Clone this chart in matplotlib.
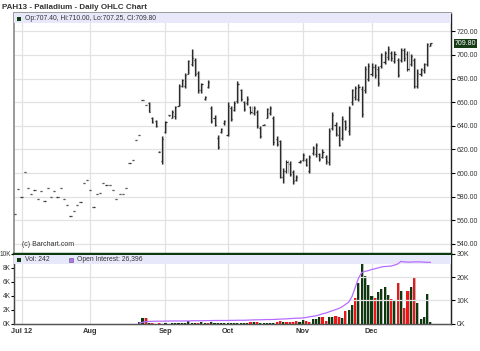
import matplotlib
matplotlib.use('Agg')
import matplotlib.pyplot as plt
from matplotlib.patches import Rectangle
from matplotlib.transforms import blended_transform_factory

plt.rcParams['font.family'] = ['Liberation Sans', 'DejaVu Sans']

# ---------------- data ----------------
highs = [565.5, 586.5, 580, 601, 587.6, 582.5, 586, 578, 584.5, 576.5,
         587.6, 580, 585, 579.5, 587, 578, 573, 563.8, 567.8, 573,
         575.4, 591.5, 594, 586, 571.3, 582, 583, 591.5, 590, 590.3,
         586, 578, 582, 582, 587, 608.5, 610.8, 628.3, 632.6, 662,
         657.5, 660, 647.6, 645.3, 618.5, 631, 644, 649.5, 653, 657,
         675, 680, 685, 696, 705.3, 697.7, 686, 676.4, 665, 679,
         656.6, 649.5, 632.6, 638, 645, 660, 656.6, 661, 677.8, 671.4,
         661, 665, 657, 656.6, 653, 639.6, 641.5, 655, 656.6, 648,
         631, 628.3, 604, 611.3, 610, 602.8, 598.6, 611.3, 617, 612.8,
         615.6, 622.6, 625.5, 617, 620, 615.6, 638, 651.5, 643, 639.6,
         648, 645.3, 656.6, 671.4, 673.6, 675, 673.6, 690.5, 693.4, 693.4,
         692, 690.5, 702, 703.3, 707.5, 703.3, 703.3, 697.7, 706, 706,
         703.3, 700.5, 697.7, 687.7, 689, 693.4, 710.4, 710.0]
lows = [565.5, 586.5, 580, 601, 587.6, 582.5, 586, 578, 584.5, 576.5,
        587.6, 580, 585, 579.5, 587, 578, 573, 563.8, 567.8, 573,
        575.4, 591.5, 594, 586, 571.3, 582, 583, 591.5, 590, 590.3,
        586, 578, 582, 582, 587, 608.5, 610.8, 628.3, 632.6, 662,
        657.5, 651.5, 642.5, 639, 617.5, 607.5, 634, 648.5, 646.7, 646,
        656.6, 673, 672, 683.5, 690.5, 682, 668, 668, 662, 672,
        642.5, 640, 620.4, 634, 641, 631, 643.9, 652.3, 659.5, 661,
        652.3, 658, 650, 649.5, 638, 629.8, 640.5, 646.7, 649.5, 624,
        623.2, 595.8, 591.6, 600, 597.2, 591, 593, 608.5, 610, 605.7,
        600, 615.6, 614, 610, 612.8, 608, 607, 636.8, 631, 622.6,
        628.3, 636.8, 632.6, 658, 662, 661, 647.6, 668, 677.8, 682,
        680.7, 673.6, 689, 692, 696, 694.8, 693.4, 681.6, 694, 694.8,
        686.3, 690.5, 672, 672, 682, 685, 690.5, 707.25]
opens = [565.5, 586.5, 580, 601, 587.6, 582.5, 586, 578, 584.5, 576.5,
         587.6, 580, 585, 579.5, 587, 578, 573, 563.8, 567.8, 573,
         575.4, 591.5, 594, 586, 571.3, 582, 583, 591.5, 590, 590.3,
         586, 578, 582, 582, 587, 608.5, 610.8, 628.3, 632.6, 662,
         657.5, 659, 647, 644, 618, 610, 635, 649, 647, 648,
         657, 674, 674, 684, 692, 696, 685, 670, 663, 673,
         655, 647, 630, 635, 642, 632, 655, 653, 661, 670,
         660, 659, 656, 651, 652, 638, 641, 647, 651, 647,
         629, 627, 597, 602, 608, 601, 594, 609, 611, 611,
         602, 617, 616, 616, 614, 614, 609, 638, 641, 632,
         630, 644, 636, 660, 664, 663, 671, 670, 680, 684,
         690, 688, 691, 694, 698, 702, 695, 696, 696, 704,
         701, 692, 696, 674, 684, 687, 692, 707.40]
closes = [565.5, 586.5, 580, 601, 587.6, 582.5, 586, 578, 584.5, 576.5,
          587.6, 580, 585, 579.5, 587, 578, 573, 563.8, 567.8, 573,
          575.4, 591.5, 594, 586, 571.3, 582, 583, 591.5, 590, 590.3,
          586, 578, 582, 582, 587, 608.5, 610.8, 628.3, 632.6, 662,
          657.5, 652, 643, 640, 618, 629, 643, 649, 652, 656,
          674, 679, 683, 695, 697, 684, 670, 675, 664, 677,
          644, 641, 622, 637, 644, 657, 646, 659, 675, 663,
          654, 663, 652, 655, 640, 631, 641, 654, 655, 626,
          625, 597, 602, 609, 599, 593, 597, 610, 615, 607,
          614, 621, 624, 612, 618, 610, 636, 649, 633, 624,
          646, 639, 655, 670, 672, 673, 650, 688, 691, 690,
          683, 676, 700, 702, 705, 697, 701, 683, 704, 697,
          688, 699, 674, 685, 688, 692, 709, 709.80]

# volume in thousands, and up(1)/down(0) day flag
volume_k = [0] * 38 + [
    0.15, 0.8, 0.8, 0.1, 0.1, 0.0, 0.1, 0.0, 0.05, 0.0,
    0.1, 0.05, 0.05, 0.05, 0.05, 0.3, 0.05, 0.05, 0.05, 0.15,
    0.05, 0.05, 0.15, 0.05, 0.05, 0.05, 0.05, 0.05, 0.05, 0.05,
    0.05, 0.05, 0.05, 0.05, 0.2, 0.15, 0.2, 0.05, 0.1, 0.05,
    0.05, 0.05, 0.2, 0.3, 0.15, 0.2, 0.15, 0.25, 0.35, 0.15,
    0.5, 0.35, 0.2, 0.65, 0.7, 1.0, 1.0, 0.3, 0.95, 0.95,
    1.15, 0.9, 0.8, 1.8, 1.9, 2.6, 3.65, 5.8, 8.96, 6.9,
    5.6, 3.9, 3.65, 4.5, 5.0, 5.3, 4.1, 3.55, 3.2, 5.8,
    4.7, 2.3, 4.7, 5.3, 6.55, 3.0, 0.7, 0.97, 4.2, 0.242]
vol_up = [1] * 38 + [
    1, 1, 0, 1, 0, 1, 0, 1, 1, 1,
    1, 1, 1, 1, 1, 1, 1, 1, 0, 1,
    1, 0, 1, 1, 1, 1, 1, 1, 1, 1,
    1, 1, 1, 1, 0, 1, 0, 1, 1, 1,
    1, 1, 0, 0, 1, 0, 0, 0, 0, 1,
    1, 0, 0, 1, 1, 1, 0, 0, 1, 1,
    0, 0, 1, 0, 1, 1, 0, 1, 1, 1,
    1, 1, 0, 1, 1, 1, 1, 0, 1, 0,
    1, 0, 0, 1, 0, 1, 1, 1, 1, 1]

oi_start = 38
open_interest_k = [
    0.2, 0.5, 0.8, 0.9, 0.95, 1.0, 1.0, 1.0, 1.05, 1.05,
    1.1, 1.1, 1.1, 1.1, 1.1, 1.1, 1.2, 1.2, 1.2, 1.2,
    1.25, 1.25, 1.25, 1.3, 1.3, 1.3, 1.3, 1.3, 1.35, 1.35,
    1.4, 1.4, 1.4, 1.45, 1.5, 1.55, 1.6, 1.6, 1.65, 1.7,
    1.7, 1.75, 1.8, 1.9, 1.95, 2.0, 2.1, 2.2, 2.3, 2.3,
    2.4, 2.6, 2.9, 3.1, 3.3, 3.7, 4.2, 4.5, 5.0, 5.5,
    6.0, 6.5, 7.2, 8.2, 9.2, 11.5, 15.5, 19.5, 22.0, 22.5,
    22.8, 23.3, 23.6, 24.0, 24.4, 24.6, 24.7, 24.8, 25.2, 25.7,
    26.8, 26.6, 26.5, 26.5, 26.6, 26.6, 26.6, 26.5, 26.4, 26.4]

month_ticks = [2, 23, 46, 65, 88, 109]
month_labels = ['Jul 12', 'Aug', 'Sep', 'Oct', 'Nov', 'Dec']
price_ticks = [540, 560, 580, 600, 620, 640, 660, 680, 700, 720]
vol_ticks = [0, 2, 4, 6, 8, 10]
vol_tick_labels = ['0K', '2K', '4K', '6K', '8K', '10K']
oi_ticks = [0, 10, 20, 30]
oi_tick_labels = ['0K', '10K', '20K', '30K']
last_price = 709.80
title = 'PAH13 - Palladium - Daily OHLC Chart'
ohlc_text = 'Op:707.40, Hi:710.00, Lo:707.25, Cl:709.80'
vol_text = 'Vol: 242'
oi_text = 'Open Interest: 26,396'
copyright_text = '(c) Barchart.com'

# ---------------- figure ----------------
W, H = 480, 351
fig = plt.figure(figsize=(W / 100, H / 100), dpi=100)
fig.patch.set_facecolor('white')

def fx(px):
    return px / W

def fy(py):
    return 1 - py / H

ax = fig.add_axes([fx(14), fy(254), fx(451) - fx(14), fy(13) - fy(254)])
axv = fig.add_axes([fx(14), fy(323.5), fx(451) - fx(14), fy(254) - fy(323.5)])
axo = axv.twinx()

n = len(highs)
xs = list(range(n))
XMIN, XMAX = -0.3, 133.3
GRID = '#e2e2e2'
DARK = '#0d3a0d'
TXT = '#333333'
PURPLE = '#b76cff'

# ---- price panel ----
ax.set_xlim(XMIN, XMAX)
ax.set_ylim(531.5, 735.5)
for p in price_ticks:
    ax.axhline(p, color=GRID, lw=0.9, zorder=0)
for m in month_ticks:
    ax.axvline(m, color=GRID, lw=0.9, zorder=0)

ax.vlines([x + 0.32 for x in xs], lows, highs, color='#b5b5b5', lw=0.8, zorder=2)
ax.vlines(xs, lows, highs, color='#2a2a2a', lw=0.9, zorder=3)
ax.hlines(opens, [x - 0.34 for x in xs], xs, color='#2a2a2a', lw=0.9, zorder=3)
ax.hlines(closes, xs, [x + 0.34 for x in xs], color='#2a2a2a', lw=0.9, zorder=3)

ax.yaxis.tick_right()
ax.set_yticks(price_ticks)
ax.set_yticklabels(['%.2f' % p for p in price_ticks])
ax.tick_params(axis='y', length=3, width=0.8, pad=1, labelsize=5, colors='black',
               labelcolor=TXT)
ax.set_xticks([])
for s in ['left', 'top']:
    ax.spines[s].set_color('#9a9a9a')
    ax.spines[s].set_linewidth(1.4)
ax.spines['right'].set_color('#222222')
ax.spines['right'].set_linewidth(1.0)
ax.spines['bottom'].set_visible(False)

# header band
ax.add_patch(Rectangle((0, (254 - 22.5) / 241), 1, 22.5 / 241 - 0.5 / 241,
                       transform=ax.transAxes, facecolor='#e8e8fb',
                       edgecolor='none', zorder=4))
fig.patches.append(Rectangle((fx(17.3), fy(20.7)), fx(4), 4 / H,
                             transform=fig.transFigure, facecolor=DARK,
                             edgecolor='none'))
fig.text(fx(25), fy(18.7), ohlc_text, fontsize=4.9, color=TXT, va='center', ha='left')
ax.text(8 / 437, 9 / 241, copyright_text, transform=ax.transAxes, fontsize=5,
        color=TXT, va='center', ha='left')

# last price marker
ax.annotate('%.2f' % last_price, xy=(1.0, last_price),
            xycoords=blended_transform_factory(ax.transAxes, ax.transData),
            xytext=(2.4, 0), textcoords='offset points', fontsize=5,
            color='white', va='center', ha='left',
            bbox=dict(boxstyle='square,pad=0.12', facecolor='#173d17', edgecolor='none'))

fig.text(fx(2), fy(7.5), title, fontsize=5.8, fontweight='bold', color=TXT,
         va='center', ha='left')

# ---- volume panel ----
axv.set_xlim(XMIN, XMAX)
axv.set_ylim(0, 10)
axo.set_ylim(0, 30)
for v in [10, 20]:
    axo.axhline(v, color=GRID, lw=0.9, zorder=0)
for m in month_ticks:
    axv.axvline(m, color=GRID, lw=0.9, zorder=0)

vcol = [DARK if u else '#f01414' for u in vol_up]
axv.bar([x + 0.3 for x in xs], volume_k, width=0.65, color='#b8b8b8', zorder=2)
axv.bar(xs, volume_k, width=0.65, color=vcol, zorder=3)
axo.plot(list(range(oi_start, oi_start + len(open_interest_k))), open_interest_k,
         color=PURPLE, lw=0.9, zorder=8)
axv.set_zorder(2)
axo.set_zorder(3)
axv.patch.set_visible(True)
axo.patch.set_visible(False)

axv.set_yticks(vol_ticks)
axv.set_yticklabels(vol_tick_labels)
axv.tick_params(axis='y', length=2, width=0.8, pad=0.4, labelsize=4.7, labelcolor=TXT)
axo.set_yticks(oi_ticks)
axo.set_yticklabels(oi_tick_labels)
axo.tick_params(axis='y', length=3, width=0.8, pad=1, labelsize=5.0, labelcolor=TXT)
axv.set_xticks(month_ticks)
axv.set_xticklabels(month_labels, fontsize=5.3, fontweight='bold', color=TXT)
axv.tick_params(axis='x', length=0, pad=3)
for a in (axv, axo):
    a.spines['top'].set_color(DARK)
    a.spines['top'].set_linewidth(1.6)
    a.spines['left'].set_color('#444444')
    a.spines['right'].set_color('#222222')
    a.spines['bottom'].set_color('#555555')
    for s in ['left', 'right', 'bottom']:
        a.spines[s].set_linewidth(0.9)

axo.add_patch(Rectangle((0, (323.5 - 263.5) / 69.5), 1, (263.5 - 255) / 69.5,
                        transform=axo.transAxes, facecolor='#e8e8fb',
                        edgecolor='none', zorder=5))
fig.patches.append(Rectangle((fx(17.3), fy(262)), fx(4), 4 / H,
                             transform=fig.transFigure, facecolor=DARK,
                             edgecolor='none', zorder=10))
fig.text(fx(25), fy(259.5), vol_text, fontsize=4.9, color=TXT, va='center', ha='left',
         zorder=11)
fig.patches.append(Rectangle((fx(68.5), fy(262)), fx(4), 4 / H,
                             transform=fig.transFigure, facecolor=PURPLE,
                             edgecolor='#555555', linewidth=0.4, zorder=10))
fig.text(fx(77), fy(259.5), oi_text, fontsize=4.9, color=TXT, va='center', ha='left',
         zorder=11)

fig.savefig('out.png', dpi=100, facecolor='white')
